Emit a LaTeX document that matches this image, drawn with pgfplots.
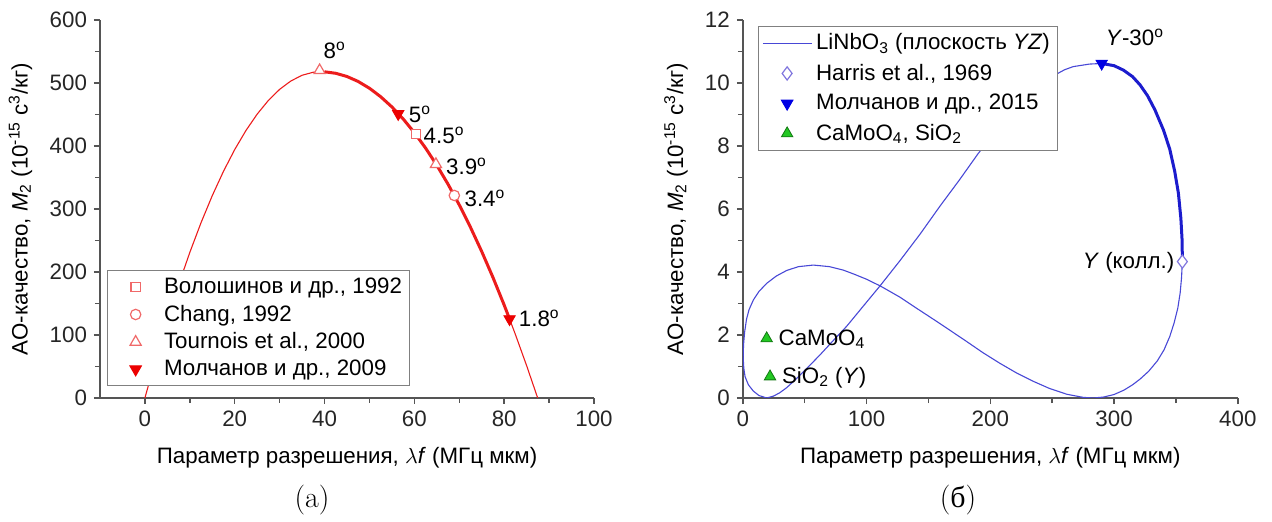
\documentclass[border=0pt]{standalone}
\usepackage{fontspec}
\newfontfamily\plotfont{Liberation Sans}
\newfontfamily\cyrserif{Liberation Serif}
\usepackage{pgfplots}
\pgfplotsset{compat=1.18}

\definecolor{redline}{RGB}{236,28,28}
\definecolor{redopen}{RGB}{240,105,105}
\definecolor{redfill}{RGB}{236,0,0}
\definecolor{blueline}{RGB}{72,72,214}
\definecolor{bluethick}{RGB}{28,28,205}
\definecolor{bluefill}{RGB}{0,0,228}
\definecolor{diamcol}{RGB}{128,118,222}
\definecolor{greenfill}{RGB}{34,200,34}
\definecolor{greendraw}{RGB}{20,120,20}
\definecolor{axisgray}{RGB}{85,85,85}

\newcommand\plotsize{\fontsize{11.2}{13.4}\selectfont}

\pgfplotsset{
  panel/.style={
    scale only axis,
    axis x line*=bottom, axis y line*=left,
    axis line style={axisgray, line width=0.8bp, -},
    every tick/.style={axisgray, line width=0.7bp},
    tick align=outside,
    major tick length=3bp, minor tick length=2.5bp,
    minor x tick num=1, minor y tick num=1,
    font=\plotfont\plotsize,
    tick label style={font=\plotfont\plotsize, text=black!85},
    /pgf/number format/assume math mode=true,
    xlabel style={at={(axis description cs:0.5,-0.159)}, anchor=center},
    legend cell align=left,
    legend style={draw=gray, line width=0.5bp, fill=white, inner xsep=1.7bp,
      inner ysep=1.5bp, row sep=0.2bp,
      font=\plotfont\plotsize},
    legend image code/.code={\draw[#1] (0bp,0bp) -- (24.4bp,0bp);},
    xlabel={Параметр разрешения, $\lambda$\textit{f} (МГц мкм)},
    ylabel={АО-качество, \textit{M}\textsubscript{2} (10\textsuperscript{-15} с\textsuperscript{3}/кг)},
  },
  % marker-only series: an empty 24.4bp slot with the mark in its middle
  markleg/.style={only marks,
    legend image code/.code={%
      \path[draw=none, fill=none] (0bp,-1bp) rectangle (24.4bp,1bp);
      \draw[##1] plot coordinates {(12.2bp,0bp)};}},
}

\begin{document}
\begin{tikzpicture}
\path[use as bounding box] (0bp,0bp) rectangle (636bp,261bp);

% ---------- panel (a): M2 versus lambda*f ----------
\begin{axis}[panel,
  at={(50bp,62bp)}, anchor=south west,
  width=247bp, height=189bp,
  xmin=-10, xmax=100, ymin=0, ymax=600,
  xtick={0,20,...,100}, ytick={0,100,...,600},
  ylabel style={at={(axis description cs:-0.161,0.5)}, anchor=center},
  legend style={at={(rel axis cs:0.0149,0.0317)}, anchor=south west},
]
% theoretical curve, thin over the full range
\addplot[redline, line width=0.55bp, forget plot] coordinates {
 (0,0) (2.5,64.2) (5,124.0) (7.5,179.7) (10,231.1) (12.5,278.3) (15,321.2)
 (17.5,359.9) (20,394.4) (22.5,424.6) (25,450.6) (27.5,472.4) (30,489.9)
 (32.5,503.2) (35,512.3) (37.5,517.1) (39.1,518.0) (40,517.8) (42.5,515.4)
 (45,510.3) (47.5,502.4) (50,491.7) (52.5,478.2) (55,462.0) (57.5,443.0)
 (60,421.2) (62.5,396.7) (65,369.4) (67.5,339.3) (70,306.5) (72.5,270.9)
 (75,232.5) (77.5,191.4) (80,147.5) (81.2,125.4) (82.5,100.8) (85,51.3)
 (87.46,0)
};
% working range, drawn heavier
\addplot[redline, line width=1.5bp, forget plot] coordinates {
 (40,517.8) (42.5,515.4) (45,510.3) (47.5,502.4) (50,491.7) (52.5,478.2)
 (55,462.0) (57.5,443.0) (60,421.2) (62.5,396.7) (65,369.4) (67.5,339.3)
 (70,306.5) (72.5,270.9) (75,232.5) (77.5,191.4) (80,147.5) (81.2,125.4)
};
\addplot[markleg, mark=square*, mark size=2.3bp,
  mark options={draw=redopen, fill=white, line width=0.6bp}]
  coordinates {(60.3,419.5)};
\addlegendentry{Волошинов и др., 1992}
\addplot[markleg, mark=*, mark size=2.6bp,
  mark options={draw=redopen, fill=white, line width=0.6bp}]
  coordinates {(68.9,321.5)};
\addlegendentry{Chang, 1992}
\addplot[markleg, mark=triangle*, mark size=3.2bp,
  mark options={draw=redopen, fill=white, line width=0.6bp}]
  coordinates {(38.9,520) (64.8,371)};
\addlegendentry{Tournois et al., 2000}
\addplot[markleg, mark=triangle*, mark size=3.3bp,
  mark options={draw=redfill, fill=redfill, rotate=180}]
  coordinates {(56.4,451) (81.2,125.4)};
\addlegendentry{Молчанов и др., 2009}

\node[anchor=base west, inner sep=0pt] at (axis cs:39.7,539) {8\textsuperscript{o}};
\node[anchor=base west, inner sep=0pt] at (axis cs:58.7,438) {5\textsuperscript{o}};
\node[anchor=base west, inner sep=0pt] at (axis cs:62.0,404) {4.5\textsuperscript{o}};
\node[anchor=base west, inner sep=0pt] at (axis cs:67.0,355) {3.9\textsuperscript{o}};
\node[anchor=base west, inner sep=0pt] at (axis cs:71.1,304) {3.4\textsuperscript{o}};
\node[anchor=base west, inner sep=0pt] at (axis cs:83.2,113) {1.8\textsuperscript{o}};
\end{axis}

% ---------- panel (b): LiNbO3, YZ plane ----------
\begin{axis}[panel,
  at={(371.4bp,62bp)}, anchor=south west,
  width=247.5bp, height=189bp,
  xmin=0, xmax=400, ymin=0, ymax=12,
  xtick={0,100,...,400}, ytick={0,2,...,12},
  ylabel style={at={(axis description cs:-0.135,0.5)}, anchor=center},
  legend style={at={(rel axis cs:0.0313,0.984)}, anchor=north west,
    row sep=1.6bp},
]
\addplot[blueline, line width=0.55bp] coordinates {
 (355.2,4.33) (354.5,3.8) (353.4,3.33) (351.5,2.85) (348.5,2.38) (345,1.95)
 (340.4,1.53) (335,1.18) (328,0.85) (321,0.60) (315,0.42) (308,0.25)
 (300,0.11) (291.5,0.03) (283.3,0) (275,0.02) (261.7,0.12) (248,0.30)
 (234.7,0.53) (221,0.80) (207.8,1.10) (194,1.44) (181,1.79) (167,2.16)
 (154,2.50) (140,2.86) (127,3.20) (119,3.38) (110.9,3.56) (100,3.77)
 (90,3.93) (81.2,4.06) (70,4.17) (57,4.22) (45,4.17) (35.5,4.05)
 (27,3.87) (19.3,3.64) (13,3.38) (8.5,3.11) (5,2.8) (3,2.5) (1.5,2.1)
 (0.6,1.7) (0.3,1.3) (0.8,0.95) (1.8,0.68) (4.5,0.42) (8.5,0.22)
 (13,0.08) (19.3,0.0) (24.8,0.06) (30,0.17) (35.5,0.33) (40.8,0.52)
 (50,0.87) (62.4,1.37) (73,1.82) (84,2.28) (97,2.9) (110.9,3.56)
 (127,4.36) (143.2,5.2) (159.5,6.1) (175,6.92) (190,7.75) (205,8.5)
 (220,9.18) (235,9.75) (249.6,10.2) (260,10.42) (267,10.52) (280,10.6)
 (290,10.62)
};
\addlegendentry{LiNbO\textsubscript{3} (плоскость \textit{YZ})}
% collinear-to-Y-30 range, drawn heavier
\addplot[bluethick, line width=1.5bp, forget plot] coordinates {
 (290,10.62) (300,10.55) (307.5,10.41) (315,10.2) (321,9.94) (327,9.6)
 (333,9.15) (340,8.5) (345,7.9) (349,7.2) (352,6.5) (354,5.7) (355,5.0)
 (355.2,4.33)
};
\addplot[markleg, mark=diamond*, mark size=3.3bp,
  mark options={draw=diamcol, fill=white, line width=0.6bp}]
  coordinates {(355.2,4.33)};
\addlegendentry{Harris et al., 1969}
\addplot[markleg, mark=triangle*, mark size=3.3bp,
  mark options={draw=bluefill, fill=bluefill, rotate=180}]
  coordinates {(290,10.62)};
\addlegendentry{Молчанов и др., 2015}
\addplot[markleg, mark=triangle*, mark size=3.3bp,
  mark options={draw=greendraw, fill=greenfill, line width=0.4bp}]
  coordinates {(19.3,1.89) (22,0.68)};
\addlegendentry{CaMoO\textsubscript{4}, SiO\textsubscript{2}}

\node[anchor=base west, inner sep=0pt] at (axis cs:293,11.18) {\textit{Y}-30\textsuperscript{o}};
\node[anchor=base east, inner sep=0pt] at (axis cs:349,4.11) {\textit{Y} (колл.)};
\node[anchor=base west, inner sep=0pt] at (axis cs:28.7,1.67) {CaMoO\textsubscript{4}};
\node[anchor=base west, inner sep=0pt] at (axis cs:31.4,0.46) {SiO\textsubscript{2} (\textit{Y})};
\end{axis}

% panel captions
\node[font=\fontsize{15}{18}\selectfont] at (156bp,11bp) {(a)};
\node[font=\fontsize{15}{18}\selectfont] at (479bp,11bp) {({\cyrserif б})};
\end{tikzpicture}
\end{document}
